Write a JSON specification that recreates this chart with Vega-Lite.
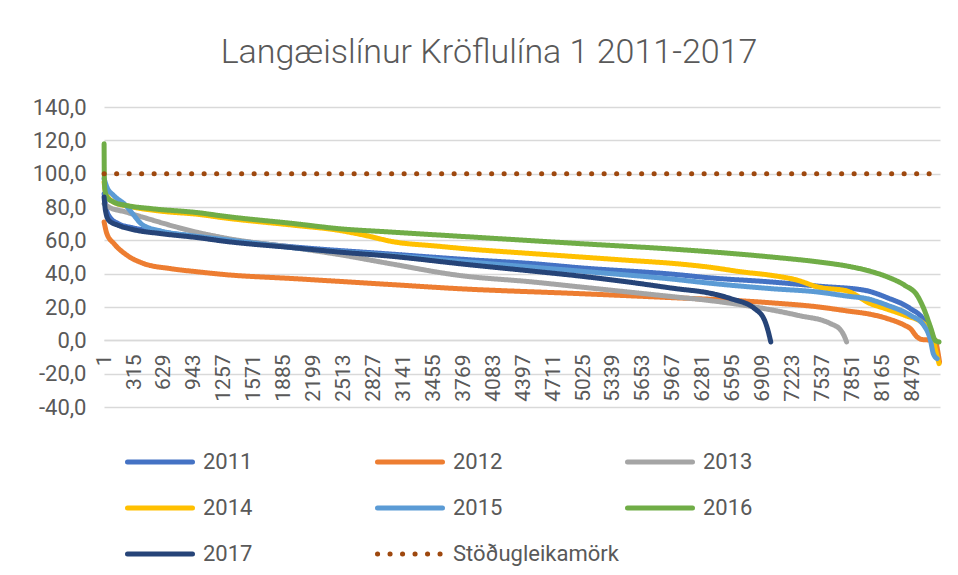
{
  "$schema": "https://vega.github.io/schema/vega-lite/v6.json",
  "width": 836,
  "height": 300,
  "autosize": {"type": "none"},
  "padding": {"left": 104, "top": 107, "right": 18, "bottom": 168},
  "background": "white",
  "title": {"text": "Langæislínur Kröflulína 1 2011-2017", "font": "Roboto", "fontSize": 34, "fontWeight": 300, "color": "#595959", "anchor": "middle", "frame": "group", "dx": -33, "offset": 26},
  "config": {"view": {"stroke": null}, "font": "Roboto"},
  "data": {"values": [
    {"s":"2011","h":1,"v":88},{"s":"2011","h":20,"v":80},{"s":"2011","h":60,"v":74},{"s":"2011","h":150,"v":70},{"s":"2011","h":300,"v":67.5},{"s":"2011","h":600,"v":65},{"s":"2011","h":1000,"v":62},{"s":"2011","h":1257,"v":60.5},{"s":"2011","h":2000,"v":56},{"s":"2011","h":3000,"v":51.8},{"s":"2011","h":3823,"v":48.4},{"s":"2011","h":4500,"v":46},{"s":"2011","h":5000,"v":43.5},{"s":"2011","h":6000,"v":39.5},{"s":"2011","h":6335,"v":37.6},{"s":"2011","h":7000,"v":35},{"s":"2011","h":7500,"v":32.5},{"s":"2011","h":7980,"v":30},{"s":"2011","h":8220,"v":25.5},{"s":"2011","h":8460,"v":19},{"s":"2011","h":8600,"v":12},{"s":"2011","h":8660,"v":4},{"s":"2011","h":8690,"v":-1},{"s":"2011","h":8730,"v":-4},
    {"s":"2012","h":1,"v":71},{"s":"2012","h":30,"v":64},{"s":"2012","h":105,"v":58},{"s":"2012","h":242,"v":51},{"s":"2012","h":420,"v":46},{"s":"2012","h":700,"v":43},{"s":"2012","h":1000,"v":41},{"s":"2012","h":1257,"v":39.5},{"s":"2012","h":2000,"v":37},{"s":"2012","h":3000,"v":33.5},{"s":"2012","h":3718,"v":31},{"s":"2012","h":5000,"v":28},{"s":"2012","h":6000,"v":25.5},{"s":"2012","h":6600,"v":24},{"s":"2012","h":7000,"v":22.5},{"s":"2012","h":7500,"v":20},{"s":"2012","h":7800,"v":17.6},{"s":"2012","h":8050,"v":15.5},{"s":"2012","h":8220,"v":13},{"s":"2012","h":8400,"v":9},{"s":"2012","h":8460,"v":7},{"s":"2012","h":8530,"v":2},{"s":"2012","h":8580,"v":0.5},{"s":"2012","h":8720,"v":0},{"s":"2012","h":8745,"v":-6},{"s":"2012","h":8765,"v":-13},
    {"s":"2013","h":1,"v":82},{"s":"2013","h":50,"v":80},{"s":"2013","h":228,"v":77},{"s":"2013","h":400,"v":74},{"s":"2013","h":1000,"v":64.5},{"s":"2013","h":1257,"v":61.5},{"s":"2013","h":2000,"v":55.5},{"s":"2013","h":2462,"v":51.5},{"s":"2013","h":3000,"v":46},{"s":"2013","h":3718,"v":39},{"s":"2013","h":4500,"v":35},{"s":"2013","h":5000,"v":32},{"s":"2013","h":6000,"v":26},{"s":"2013","h":6335,"v":24},{"s":"2013","h":6930,"v":19},{"s":"2013","h":7278,"v":15},{"s":"2013","h":7623,"v":10},{"s":"2013","h":7730,"v":6},{"s":"2013","h":7770,"v":2},{"s":"2013","h":7790,"v":-1},
    {"s":"2014","h":1,"v":95},{"s":"2014","h":20,"v":88},{"s":"2014","h":100,"v":83},{"s":"2014","h":300,"v":80},{"s":"2014","h":600,"v":77.5},{"s":"2014","h":1000,"v":75.5},{"s":"2014","h":1257,"v":73.5},{"s":"2014","h":2000,"v":69},{"s":"2014","h":2462,"v":66},{"s":"2014","h":2776,"v":62.5},{"s":"2014","h":3000,"v":59.5},{"s":"2014","h":3500,"v":56.5},{"s":"2014","h":3823,"v":54.8},{"s":"2014","h":4500,"v":52},{"s":"2014","h":5000,"v":50},{"s":"2014","h":5500,"v":48},{"s":"2014","h":6000,"v":46},{"s":"2014","h":6335,"v":44},{"s":"2014","h":6700,"v":41},{"s":"2014","h":7000,"v":39},{"s":"2014","h":7278,"v":36},{"s":"2014","h":7487,"v":32},{"s":"2014","h":7800,"v":29.5},{"s":"2014","h":8041,"v":22},{"s":"2014","h":8200,"v":19},{"s":"2014","h":8400,"v":15},{"s":"2014","h":8600,"v":10},{"s":"2014","h":8680,"v":5},{"s":"2014","h":8720,"v":-5},{"s":"2014","h":8760,"v":-14},
    {"s":"2015","h":1,"v":97},{"s":"2015","h":30,"v":92},{"s":"2015","h":100,"v":87},{"s":"2015","h":228,"v":81},{"s":"2015","h":300,"v":76},{"s":"2015","h":400,"v":69.5},{"s":"2015","h":600,"v":65.5},{"s":"2015","h":890,"v":63},{"s":"2015","h":1257,"v":60.5},{"s":"2015","h":2000,"v":55.5},{"s":"2015","h":3000,"v":51},{"s":"2015","h":3823,"v":47},{"s":"2015","h":5000,"v":41.5},{"s":"2015","h":6000,"v":36.5},{"s":"2015","h":6335,"v":34.4},{"s":"2015","h":7000,"v":31},{"s":"2015","h":7487,"v":29},{"s":"2015","h":7800,"v":26.5},{"s":"2015","h":8000,"v":25},{"s":"2015","h":8220,"v":21},{"s":"2015","h":8460,"v":15},{"s":"2015","h":8600,"v":9},{"s":"2015","h":8670,"v":0},{"s":"2015","h":8700,"v":-8},{"s":"2015","h":8740,"v":-11},
    {"s":"2016","h":1,"v":118},{"s":"2016","h":3,"v":100},{"s":"2016","h":8,"v":91},{"s":"2016","h":30,"v":86},{"s":"2016","h":100,"v":83},{"s":"2016","h":228,"v":81},{"s":"2016","h":500,"v":79},{"s":"2016","h":1000,"v":76.5},{"s":"2016","h":1257,"v":74.5},{"s":"2016","h":2000,"v":70},{"s":"2016","h":2462,"v":67},{"s":"2016","h":3000,"v":65},{"s":"2016","h":4000,"v":61.5},{"s":"2016","h":5000,"v":58},{"s":"2016","h":6000,"v":54.6},{"s":"2016","h":6500,"v":52.5},{"s":"2016","h":7000,"v":50},{"s":"2016","h":7500,"v":47},{"s":"2016","h":7800,"v":44.5},{"s":"2016","h":8000,"v":42},{"s":"2016","h":8220,"v":38},{"s":"2016","h":8400,"v":33},{"s":"2016","h":8530,"v":27},{"s":"2016","h":8600,"v":19},{"s":"2016","h":8670,"v":8},{"s":"2016","h":8720,"v":0},{"s":"2016","h":8760,"v":-1},
    {"s":"2017","h":1,"v":86},{"s":"2017","h":15,"v":78},{"s":"2017","h":50,"v":72},{"s":"2017","h":150,"v":69},{"s":"2017","h":300,"v":66.5},{"s":"2017","h":600,"v":64},{"s":"2017","h":1000,"v":61.5},{"s":"2017","h":1257,"v":59.5},{"s":"2017","h":2000,"v":55.5},{"s":"2017","h":2462,"v":53},{"s":"2017","h":3000,"v":50.5},{"s":"2017","h":3823,"v":45.4},{"s":"2017","h":4500,"v":41.5},{"s":"2017","h":5000,"v":38.5},{"s":"2017","h":5500,"v":35},{"s":"2017","h":6000,"v":31},{"s":"2017","h":6335,"v":28.5},{"s":"2017","h":6576,"v":25},{"s":"2017","h":6826,"v":19},{"s":"2017","h":6930,"v":12},{"s":"2017","h":6965,"v":6},{"s":"2017","h":6995,"v":-1},
    {"s":"Stöðugleikamörk","h":1,"v":100},{"s":"Stöðugleikamörk","h":8760,"v":100}
  ]},
  "mark": {"type": "line", "interpolate": "monotone", "strokeWidth": 5, "strokeCap": "round", "strokeJoin": "round"},
  "encoding": {
    "x": {"field": "h", "type": "quantitative", "scale": {"domain": [0, 8770], "nice": false, "zero": false},
      "axis": {"title": null, "values": [1,315,629,943,1257,1571,1885,2199,2513,2827,3141,3455,3769,4083,4397,4711,5025,5339,5653,5967,6281,6595,6909,7223,7537,7851,8165,8479], "format": "d", "labelAngle": -90, "labelFontSize": 21, "labelColor": "#595959", "labelFont": "Roboto", "offset": -67, "domain": true, "domainColor": "#D9D9D9", "domainWidth": 1.3, "ticks": false, "grid": false, "labelPadding": 14, "labelOverlap": false, "labelBound": false, "labelFlush": false}},
    "y": {"field": "v", "type": "quantitative", "scale": {"domain": [-40, 140], "nice": false, "zero": false},
      "axis": {"title": null, "values": [-40,-20,0,20,40,60,80,100,120,140], "labelExpr": "datum.value + ',0'", "labelFontSize": 22, "labelColor": "#595959", "labelFont": "Roboto", "labelPadding": 18, "domain": false, "ticks": false, "grid": true, "gridColor": "#D9D9D9", "gridWidth": 1.3}},
    "color": {"field": "s", "type": "nominal",
      "scale": {"domain": ["2011","2012","2013","2014","2015","2016","2017","Stöðugleikamörk"], "range": ["#4472C4","#ED7D31","#A5A5A5","#FFC000","#5B9BD5","#70AD47","#264478","#9E480E"]},
      "legend": {"title": null, "orient": "none", "legendX": 21, "legendY": 320, "direction": "horizontal", "columns": 3, "symbolType": "stroke", "symbolSize": 4225, "symbolStrokeWidth": 5, "labelFontSize": 22, "labelColor": "#595959", "labelFont": "Roboto", "gridAlign": "all", "columnPadding": -2, "rowPadding": -1, "labelOffset": 8, "labelLimit": 300, "encode": {"symbols": {"update": {"strokeCap": {"value": "round"}}}}}},
    "strokeDash": {"field": "s", "type": "nominal",
      "scale": {"domain": ["2011","2012","2013","2014","2015","2016","2017","Stöðugleikamörk"], "range": [[1,0],[1,0],[1,0],[1,0],[1,0],[1,0],[1,0],[0.1,12.4]]},
      "legend": {"title": null, "orient": "none", "legendX": 21, "legendY": 320, "direction": "horizontal", "columns": 3, "symbolType": "stroke", "symbolSize": 4225, "symbolStrokeWidth": 5, "labelFontSize": 22, "labelColor": "#595959", "labelFont": "Roboto", "gridAlign": "all", "columnPadding": -2, "rowPadding": -1, "labelOffset": 8, "labelLimit": 300, "encode": {"symbols": {"update": {"strokeCap": {"value": "round"}}}}}}
  }
}
